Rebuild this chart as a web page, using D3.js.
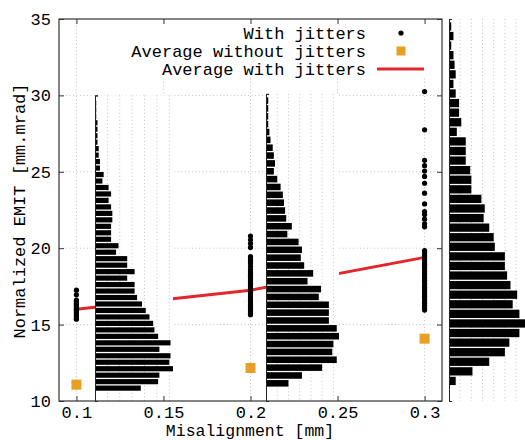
<!DOCTYPE html>
<html>
<head>
<meta charset="utf-8">
<script src="https://cdn.jsdelivr.net/npm/d3@7"></script>
<style>
  body { margin: 0; background: #fff; }
  svg text { font-family: "Liberation Mono", "DejaVu Sans Mono", monospace; fill: #000; }
</style>
</head>
<body>
<div id="chart"></div>
<script>
// misalignment positions and averages
var misalign = [0.1, 0.2, 0.3];
var avgWithout = [11.07, 12.16, 14.08];
var avgWith = [16.0, 17.25, 19.4];

// individual runs with jitters
var jit010 = [17.25, 16.95, 16.6, 16.5, 16.4, 16.3, 16.2, 16.1, 16.0, 15.9, 15.8, 15.7, 15.6, 15.5, 15.4, 15.35];
var jit020 = [20.8, 20.55, 20.3, 20.05, 19.45, 19.3, 19.15, 19.0, 18.8, 18.6, 18.45, 18.3, 18.15, 18.0, 17.85,
              17.7, 17.55, 17.4, 17.25, 17.1, 16.95, 16.8, 16.65, 16.5, 16.35, 16.2, 16.05, 15.9, 15.75, 15.65];
var jit030 = [30.25, 27.75, 25.75, 25.4, 25.05, 24.7, 24.25, 23.6, 22.9, 22.4, 22.2, 21.9, 21.6, 21.4,
              19.85, 19.7, 19.55, 19.4, 19.25, 19.1, 18.95, 18.8, 18.65, 18.5, 18.35, 18.2, 18.05, 17.9, 17.75,
              17.6, 17.45, 17.3, 17.15, 17.0, 16.85, 16.7, 16.55, 16.4, 16.25, 16.1, 15.95];

// histograms of the runs (counts from lowest bin upward)
var hist1 = [37, 51, 52, 63, 60, 61, 52, 61, 51, 48, 47, 44, 41, 38, 34, 32, 32, 26, 32, 26, 26, 17, 19, 13, 13,
             13, 14, 14, 13, 11, 13, 11, 6, 7, 4, 4, 3, 3, 2, 2, 2, 2, 1, 1, 1];
var hist2 = [20, 32, 50, 63, 59, 60, 65, 63, 56, 56, 56, 47, 49, 37, 42, 34, 31, 32, 29, 19, 23, 18, 17, 16, 15,
             13, 10, 7, 8, 7, 6, 4, 3, 2, 2, 2, 2];
var hist3 = [6, 21, 36, 50, 54, 63, 68, 63, 57, 61, 55, 52, 50, 50, 41, 40, 36, 31, 32, 29, 20, 20, 19, 15, 15,
             15, 7, 11, 9, 9, 6, 4, 6, 5, 4, 2, 4, 2];
var histStart = [10.63, 10.9, 11.0];
var histBin = [0.4236, 0.514, 0.627];
var histTop = [30, 30.1, 35];

var xTicks = [0.1, 0.15, 0.2, 0.25, 0.3];
var yTicks = [10, 15, 20, 25, 30, 35];
var legendLabels = ["With jitters", "Average without jitters", "Average with jitters"];

var width = 525, height = 440;
var margin = {top: 19, right: 83, bottom: 39, left: 59};
var FONT = "17px";

var svg = d3.select("#chart").append("svg")
    .attr("width", width)
    .attr("height", height);

var x = d3.scaleLinear().domain([0.09, 0.31]).range([margin.left, width - margin.right]);
var y = d3.scaleLinear().domain([10, 35]).range([height - margin.bottom, margin.top]);
var x0 = margin.left, x1 = width - margin.right, y0 = height - margin.bottom, y1 = margin.top;

// grid
var grid = svg.append("g")
    .attr("stroke", "#c4c4c4")
    .attr("stroke-width", 1)
    .attr("stroke-dasharray", "1,2.5");
grid.selectAll("line.gx").data(xTicks).enter().append("line")
    .attr("x1", function(d) { return x(d); }).attr("x2", function(d) { return x(d); })
    .attr("y1", y1).attr("y2", y0);
grid.selectAll("line.gy").data(yTicks.slice(1, -1)).enter().append("line")
    .attr("x1", x0).attr("x2", x1)
    .attr("y1", function(d) { return y(d); }).attr("y2", function(d) { return y(d); });

// average with jitters
var line = d3.line()
    .x(function(d, i) { return x(misalign[i]); })
    .y(function(d) { return y(d); });
svg.append("path")
    .datum(avgWith)
    .attr("d", line)
    .attr("fill", "none")
    .attr("stroke", "#e3262a")
    .attr("stroke-width", 3);

// runs with jitters
var jitters = [];
[jit010, jit020, jit030].forEach(function(arr, i) {
    arr.forEach(function(v) { jitters.push({m: misalign[i], v: v}); });
});
svg.append("g").selectAll("circle")
    .data(jitters)
    .enter()
    .append("circle")
    .attr("cx", function(d) { return x(d.m); })
    .attr("cy", function(d) { return y(d.v); })
    .attr("r", 2.6)
    .attr("fill", "#000");

// averages without jitters
var sq = 10;
svg.append("g").selectAll("rect")
    .data(avgWithout)
    .enter()
    .append("rect")
    .attr("x", function(d, i) { return x(misalign[i]) - sq / 2; })
    .attr("y", function(d) { return y(d) - sq / 2; })
    .attr("width", sq).attr("height", sq)
    .attr("fill", "#e89f25");

// legend (opaque)
svg.append("rect")
    .attr("x", 118).attr("y", y1 + 1)
    .attr("width", 318).attr("height", 58)
    .attr("fill", "#fff");
var leg = svg.append("g");
legendLabels.forEach(function(t, i) {
    var ly = 33 + i * 18;
    leg.append("text")
        .attr("x", 366).attr("y", ly)
        .attr("dy", "0.35em")
        .attr("text-anchor", "end")
        .style("font-size", FONT)
        .text(t);
    if (i === 0) {
        leg.append("circle").attr("cx", 401).attr("cy", ly).attr("r", 2.6).attr("fill", "#000");
    } else if (i === 1) {
        leg.append("rect").attr("x", 401 - 4.5).attr("y", ly - 4.5).attr("width", 9).attr("height", 9).attr("fill", "#e89f25");
    } else {
        leg.append("line").attr("x1", 377).attr("x2", 424).attr("y1", ly).attr("y2", ly)
            .attr("stroke", "#e3262a").attr("stroke-width", 3);
    }
});

// inset histograms
var insetLayout = [
    {left: 95, width: 78},
    {left: 266, width: 73},
    {left: 449, width: 76}
];
[hist1, hist2, hist3].forEach(function(counts, k) {
    var lay = insetLayout[k];
    var hx = d3.scaleLinear().domain([0, d3.max(counts)]).range([lay.left, lay.left + lay.width]);
    var g = svg.append("g");
    g.append("rect")
        .attr("x", lay.left).attr("y", y(histTop[k]))
        .attr("width", lay.width).attr("height", y0 - y(histTop[k]))
        .attr("fill", "#fff");
    g.selectAll("line.grid")
        .data(hx.ticks(7).filter(function(t) { return t > 0; }))
        .enter().append("line")
        .attr("x1", function(d) { return hx(d); }).attr("x2", function(d) { return hx(d); })
        .attr("y1", y(histTop[k])).attr("y2", y0)
        .attr("stroke", "#c4c4c4")
        .attr("stroke-dasharray", "1,2.5");
    g.selectAll("rect.bar")
        .data(counts)
        .enter().append("rect")
        .attr("x", hx(0))
        .attr("y", function(d, i) { return y(histStart[k] + (i + 1) * histBin[k]) + 0.65; })
        .attr("width", function(d) { return hx(d) - hx(0); })
        .attr("height", function(d, i) {
            return y(histStart[k] + i * histBin[k]) - y(histStart[k] + (i + 1) * histBin[k]) - 1.3;
        })
        .attr("fill", "#000");
    var yi = d3.scaleLinear().domain([10, histTop[k]]).range([y0, y(histTop[k])]);
    g.append("g")
        .attr("transform", "translate(" + lay.left + ",0)")
        .call(d3.axisLeft(yi).tickValues([10, histTop[k]]).tickSize(-3).tickFormat(""))
        .call(function(a) { a.selectAll("path,line").attr("stroke", "#222"); });
});

// border, ticks and labels
svg.append("rect")
    .attr("x", x0).attr("y", y1)
    .attr("width", x1 - x0).attr("height", y0 - y1)
    .attr("fill", "none")
    .attr("stroke", "#333")
    .attr("stroke-width", 1.2);

function styleAxis(a) {
    a.select(".domain").remove();
    a.selectAll("line").attr("stroke", "#333");
    a.selectAll("text").style("font-size", FONT);
}
svg.append("g")
    .attr("transform", "translate(0," + y0 + ")")
    .call(d3.axisBottom(x).tickValues(xTicks).tickSize(-5).tickPadding(5)
        .tickFormat(function(d) { return String(d); }))
    .call(styleAxis);
svg.append("g")
    .attr("transform", "translate(0," + y1 + ")")
    .call(d3.axisTop(x).tickValues(xTicks).tickSize(-5).tickFormat(""))
    .call(styleAxis);
svg.append("g")
    .attr("transform", "translate(" + x0 + ",0)")
    .call(d3.axisLeft(y).tickValues(yTicks).tickSize(-5).tickPadding(8))
    .call(styleAxis);
svg.append("g")
    .attr("transform", "translate(" + x1 + ",0)")
    .call(d3.axisRight(y).tickValues(yTicks).tickSize(-5).tickFormat(""))
    .call(styleAxis);

svg.selectAll(".tick text").attr("fill", "#000");

svg.append("text")
    .attr("x", 250).attr("y", 436)
    .attr("text-anchor", "middle")
    .style("font-size", "16.5px")
    .text("Misalignment [mm]");
svg.append("text")
    .attr("transform", "translate(25,211) rotate(-90)")
    .attr("text-anchor", "middle")
    .style("font-size", FONT)
    .text("Normalized EMIT [mm.mrad]");
</script>
</body>
</html>
